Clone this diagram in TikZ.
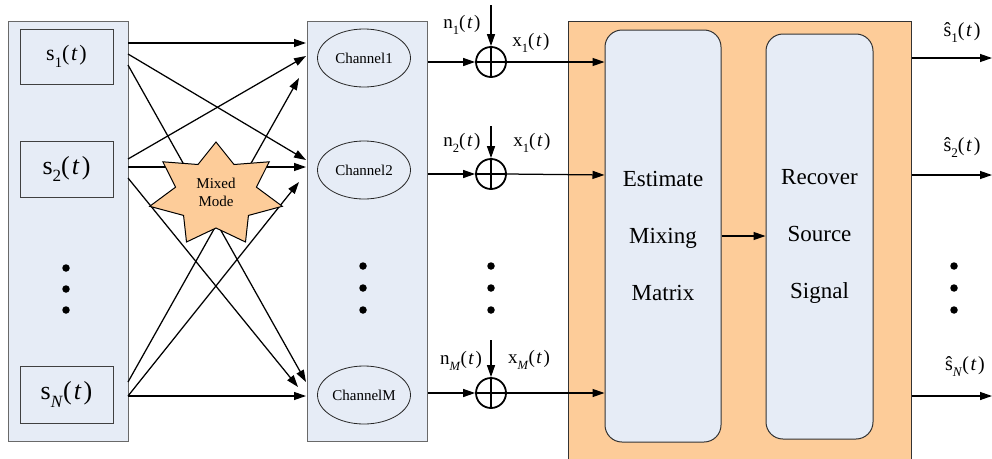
\documentclass[tikz,border=0pt]{standalone}
\usepackage{fontspec}
\setmainfont{Liberation Serif}
\newfontfamily\timesfont{Liberation Serif}
\usepackage{graphicx}
\usetikzlibrary{arrows.meta,calc,shapes.geometric}

\definecolor{panelblue}{RGB}{230,236,246}
\definecolor{mixorange}{RGB}{253,204,153}
\definecolor{panelline}{RGB}{105,105,105}

% text size helper, always in the serif face
\newcommand\fsz[1]{\timesfont\fontsize{#1}{1.15\dimexpr#1pt\relax}\selectfont}
% signal labels such as s_1(t): upright letter, lowered small index, italic t
\newcommand\lowsub[1]{\raisebox{-0.3em}{\scalebox{0.66}{#1}}}
\newcommand\sigt[2]{#1\lowsub{#2}(\kern0.08em\textit{t}\kern0.08em)}

\begin{document}
\begin{tikzpicture}[x=1pt,y=-1pt,line width=1.25pt,
  arr/.style={-{Triangle[length=12pt,width=8pt]}},
  panel/.style={draw=panelline,fill=panelblue,line width=1pt,inner sep=0pt},
  srcbox/.style={draw=black!75,fill=panelblue,line width=1pt,inner sep=0pt,
    minimum width=93pt},
  chan/.style={ellipse,draw=black!85,fill=panelblue,line width=0.8pt,inner sep=0pt,
    minimum width=93pt,minimum height=58pt,font=\fsz{15}},
  sumnode/.style={circle,draw,line width=1.8pt,minimum size=30pt,inner sep=0pt,
    path picture={\draw[line width=1.8pt]
      (path picture bounding box.north) -- (path picture bounding box.south)
      (path picture bounding box.west) -- (path picture bounding box.east);}},
  procbox/.style={draw=black!80,fill=panelblue,line width=1pt,rounded corners=17pt,
    inner sep=0pt,align=center,font=\timesfont\fontsize{23}{57}\selectfont},
  siglabel/.style={inner sep=0pt,font=\fsz{19}},
  dot/.style={circle,fill=black,inner sep=0pt,minimum size=7.5pt}]

\useasboundingbox (0,0) rectangle (992,458);
\clip (0,0) rectangle (992,458);

% ---- source panel ----
\node[panel,minimum width=120pt,minimum height=420pt] (srcpanel) at (68,231) {};
\node[srcbox,minimum height=55pt,font=\fsz{22}] (s1) at (66.5,56.5) {\sigt{s}{1}};
\node[srcbox,minimum height=56pt,font=\fsz{26}] (s2) at (66.5,169) {\sigt{s}{2}};
\node[srcbox,minimum height=57pt,font=\fsz{26}] (sN) at (66.5,394.5) {\sigt{s}{\textit{N}}};
\foreach \i/\yy in {1/268,2/289,3/310}
  \node[dot] (ldot\i) at (66,\yy) {};

% ---- channel panel ----
\node[panel,minimum width=120pt,minimum height=420pt] (chpanel) at (367,231) {};
\node[chan] (ch1) at (364,58) {Channel1};
\node[chan] (ch2) at (364,170) {Channel2};
\node[chan] (chM) at (364,395) {ChannelM};
\foreach \i/\yy in {1/266,2/288,3/310}
  \node[dot] (cdot\i) at (363,\yy) {};

% ---- mixing connectors: source ports and channel ports ----
\coordinate (s1a) at (128,43);  \coordinate (s1b) at (128,54);  \coordinate (s1c) at (128,65);
\coordinate (s2a) at (128,159); \coordinate (s2b) at (128,167); \coordinate (s2c) at (128,178);
\coordinate (sNa) at (128,382); \coordinate (sNb) at (128,396);
\coordinate (c1a) at (306,43);  \coordinate (c1b) at (306,56);  \coordinate (c1c) at (299,78);
\coordinate (c2a) at (306,160); \coordinate (c2b) at (306,167); \coordinate (c2c) at (299,182);
\coordinate (cMa) at (306,382); \coordinate (cMb) at (298,387); \coordinate (cMc) at (306,396);

\draw[arr] (s1a) -- (c1a);
\draw[arr] (s1b) -- (c2a);
\draw[arr] (s1c) -- (cMa);
\draw[arr] (s2a) -- (c1b);
\draw[arr] (s2b) -- (c2b);
\draw[arr] (s2c) -- (cMb);
\draw[arr] (sNa) -- (c1c);
\draw[arr] (sNb) -- (c2c);
\draw[arr] (sNb) -- (cMc);

% ---- seven-pointed mixing star ----
\draw[fill=mixorange,line width=1pt,line join=miter]
  plot[samples at={0,...,13},variable=\k]
  ({216+ifthenelse(mod(\k,2)==0,68,41.5)*cos(90+\k*180/7)},
   {194.6-ifthenelse(mod(\k,2)==0,52.6,33.4)*sin(90+\k*180/7)}) -- cycle;
\node[align=center,font=\timesfont\fontsize{15}{18}\selectfont,inner sep=0pt] (mix) at (216,192) {Mixed\\Mode};

% ---- noise adders ----
\node[sumnode] (sum1) at (491,62) {};
\node[sumnode] (sum2) at (491,174) {};
\node[sumnode] (sumM) at (491,393) {};
\coordinate (n1top) at (491,5);
\coordinate (n2top) at (491,126);
\coordinate (nMtop) at (491,340);
\draw[arr] (n1top) -- (sum1.north);
\draw[arr] (n2top) -- (sum2.north);
\draw[arr] (nMtop) -- (sumM.north);
\draw[arr] (sum1 -| chpanel.east) -- (sum1.west);
\draw[arr] (sum2 -| chpanel.east) -- (sum2.west);
\draw[arr] (sumM -| chpanel.east) -- (sumM.west);

\node[siglabel] (n1lab) at (462,25) {\sigt{n}{1}};
\node[siglabel] (x1lab) at (531,43) {\sigt{x}{1}};
\node[siglabel] (n2lab) at (462,143) {\sigt{n}{2}};
\node[siglabel] (x2lab) at (532,143) {\sigt{x}{1}};
\node[siglabel] (nMlab) at (461,361) {\sigt{n}{\textit{M}}};
\node[siglabel] (xMlab) at (529,360) {\sigt{x}{\textit{M}}};
\foreach \i/\yy in {1/266,2/288,3/310}
  \node[dot] (mdot\i) at (491,\yy) {};

% ---- separation block ----
\node[draw=black!80,fill=mixorange,line width=1pt,inner sep=0pt,
  minimum width=343pt,minimum height=449pt] (sep) at (739.5,245.5) {};
\node[procbox,minimum width=116pt,minimum height=412pt] (est) at (663,236)
  {Estimate\\Mixing\\Matrix};
\node[procbox,minimum width=107pt,minimum height=405pt] (rec) at (819.5,236.5)
  {Recover\\Source\\Signal};
\draw[arr] (est.east) -- (est.east -| rec.west);

\draw[arr] (sum1.east) -- (sum1 -| est.west);
\draw[arr] (sum2.east) -- ($(sum2 -| est.west)+(0,1)$);
\draw[arr] (sumM.east) -- (sumM -| est.west);

% ---- separated outputs ----
\coordinate (o1) at (992,58);
\coordinate (o2) at (992,175);
\coordinate (oN) at (992,396);
\draw[arr] (o1 -| sep.east) -- (o1);
\draw[arr] (o2 -| sep.east) -- (o2);
\draw[arr] (oN -| sep.east) -- (oN);
\node[siglabel,font=\fsz{20}] (h1lab) at (962,33) {\sigt{ŝ}{1}};
\node[siglabel,font=\fsz{20}] (h2lab) at (962,148) {\sigt{ŝ}{2}};
\node[siglabel,font=\fsz{20}] (hNlab) at (965,367) {\sigt{ŝ}{\textit{N}}};
\foreach \i/\yy in {1/266,2/288,3/310}
  \node[dot] (rdot\i) at (954,\yy) {};

\end{tikzpicture}
\end{document}
